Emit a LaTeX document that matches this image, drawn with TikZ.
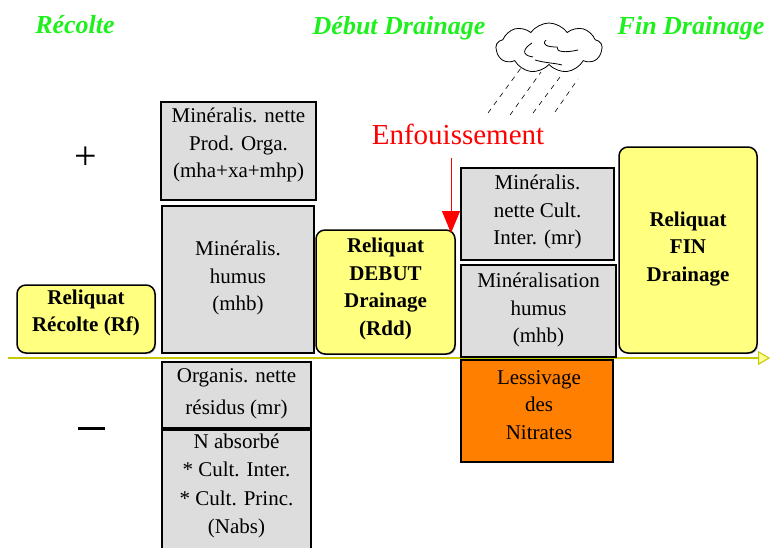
\documentclass[tikz,border=0pt]{standalone}
\usepackage{fontspec}
\setmainfont{Liberation Serif}
\usetikzlibrary{arrows.meta,shapes.symbols,shadows}
\definecolor{grayfill}{HTML}{DDDDDD}
\definecolor{yelfill}{HTML}{FFFF80}
\definecolor{orangefill}{HTML}{FF8000}
\definecolor{titlegreen}{RGB}{30,240,30}
\definecolor{axiscol}{RGB}{200,200,0}
\definecolor{axisfill}{RGB}{255,255,150}
\begin{document}
\begin{tikzpicture}[x=1pt,y=-1pt,
  graybox/.style={draw=black,fill=grayfill,line width=1.2pt,inner sep=0pt,outer sep=0pt,
    drop shadow={shadow xshift=1.2pt,shadow yshift=-1.2pt,opacity=0.45}},
  yelbox/.style={draw=black,fill=yelfill,line width=1.5pt,rounded corners=9pt,inner sep=0pt,outer sep=0pt,
    drop shadow={shadow xshift=1.2pt,shadow yshift=-1.2pt,opacity=0.45}},
  orbox/.style={graybox,fill=orangefill},
  txt/.style={align=center,inner sep=0pt,font=\fontsize{21}{27.5}\selectfont},
  btxt/.style={align=center,inner sep=0pt,font=\fontsize{21}{27.5}\selectfont\bfseries},
  title/.style={inner sep=0pt,text=titlegreen,font=\fontsize{26}{30}\selectfont\bfseries\itshape},
  rain/.style={draw=black,line width=0.6pt,dash pattern=on 5pt off 5pt}
]
\useasboundingbox (0,0) rectangle (771,547);

% titles
\node[title] (tR) at (75,25) {Récolte};
\node[title] (tD) at (399,28) {Début Drainage};
\node[title] (tF) at (691,28) {Fin Drainage};

% plus / minus
\node[inner sep=0pt,font=\fontsize{40}{40}\selectfont] (plus) at (86,158) {+};
\node[draw=black,fill=black,inner sep=0pt,minimum width=26pt,minimum height=2.2pt] (minus) at (91,428) {};

% axis
\coordinate (ax0) at (8,358);
\coordinate (ax1) at (770,358);
\draw[draw=axiscol,line width=2.4pt,-{Triangle[length=12pt,width=14pt,fill=axisfill,line width=1pt]}] (ax0) -- (ax1);

% boxes
\node[yelbox,minimum width=138pt,minimum height=68pt] (R) at (86,319) {};
\node[graybox,minimum width=155pt,minimum height=98pt] (B1) at (238.5,151) {};
\node[graybox,minimum width=152pt,minimum height=147pt] (B2) at (238,279.5) {};
\node[yelbox,minimum width=139pt,minimum height=124pt] (D) at (385.5,292) {};
\node[graybox,minimum width=153pt,minimum height=92pt] (B3) at (537.5,214) {};
\node[graybox,minimum width=155pt,minimum height=92pt] (B4) at (538.5,311) {};
\node[orbox,minimum width=152pt,minimum height=102pt] (O) at (537,411) {};
\node[yelbox,minimum width=138pt,minimum height=206pt] (F) at (688,250) {};
\node[graybox,minimum width=149pt,minimum height=66pt] (B5) at (236.5,395) {};
\node[graybox,minimum width=149pt,minimum height=132pt] (B6) at (236.5,496) {};

% texts
\node[btxt] (tRt) at (86,313) {Reliquat\\Récolte (Rf)};
\node[txt] (tB1) at (238.5,145) {Minéralis. nette\\Prod. Orga.\\(mha+xa+mhp)};
\node[txt] (tB2) at (238,278) {Minéralis.\\humus\\(mhb)};
\node[btxt] (tDt) at (385.5,289) {Reliquat\\DEBUT\\Drainage\\(Rdd)};
\node[txt] (tB3) at (537.5,212) {Minéralis.\\nette Cult.\\Inter. (mr)};
\node[txt] (tB4) at (538.5,310) {Minéralisation\\humus\\(mhb)};
\node[txt] (tO) at (539,405) {Lessivage\\des\\Nitrates};
\node[btxt] (tFt) at (688,249) {Reliquat\\FIN\\Drainage};
\node[txt,font=\fontsize{21}{32}\selectfont] (tB5) at (236.5,394) {Organis. nette\\résidus (mr)};
\node[txt,font=\fontsize{21}{28.5}\selectfont] (tB6) at (236.5,486) {N absorbé\\* Cult. Inter.\\* Cult. Princ.\\(Nabs)};

% Enfouissement
\node[inner sep=0pt,text=red,font=\fontsize{29}{30}\selectfont] (enf) at (458,134) {Enfouissement};
\coordinate (enfA) at (451,158);
\coordinate (enfB) at (451,233);
\draw[red,line width=1pt,-{Triangle[length=22pt,width=18pt]}] (enfA) -- (enfB);

% cloud
\node[cloud,draw=black,line width=0.8pt,cloud puffs=9,cloud puff arc=110,aspect=2.2,
      minimum width=106pt,minimum height=50pt,inner sep=0pt] (cloud) at (549,48) {};
\draw[line width=0.8pt] (532,43) .. controls (524,48) and (520,55) .. (533,57);
\draw[line width=0.8pt] (546,40) .. controls (541,45) and (548,47) .. (557,47)
      .. controls (556,52) and (565,53) .. (578,50);
\draw[line width=0.8pt] (535,60) .. controls (545,63) and (555,63) .. (562,65);

% rain
\coordinate (r1a) at (488,113); \coordinate (r1b) at (521,68);
\coordinate (r2a) at (510,115); \coordinate (r2b) at (541,72);
\coordinate (r3a) at (533,113); \coordinate (r3b) at (560,77);
\coordinate (r4a) at (555,112); \coordinate (r4b) at (578,79);
\draw[rain] (r1a) -- (r1b);
\draw[rain] (r2a) -- (r2b);
\draw[rain] (r3a) -- (r3b);
\draw[rain] (r4a) -- (r4b);
\end{tikzpicture}
\end{document}
